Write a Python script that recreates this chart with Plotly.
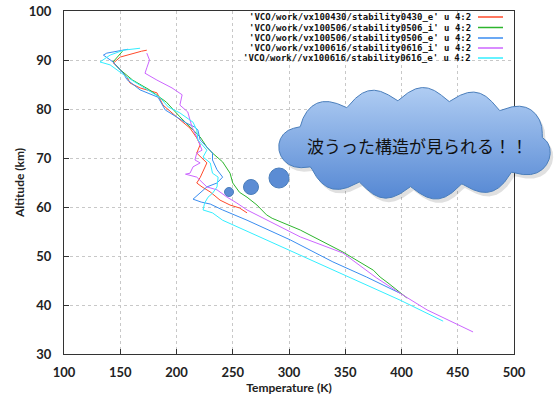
import numpy as np
import plotly.graph_objects as go

W, H = 558, 399

# ---------------- data (Temperature K, Altitude km) ----------------
names = [
    "'VCO/work/vx100430/stability0430_e' u 4:2",
    "'VCO/work/vx100506/stability0506_i' u 4:2",
    "'VCO/work/vx100506/stability0506_e' u 4:2",
    "'VCO/work/vx100616/stability0616_i' u 4:2",
    "'VCO/work//vx100616/stability0616_e' u 4:2",
]
colors = ["#ff4a2a", "#2db52d", "#3a8df0", "#cc66ff", "#33eeff"]

red_T = [173.6, 169, 150, 144, 152, 156, 158.7, 167.6, 182.6, 188, 200, 212, 218, 221, 218, 227,
         221, 218, 222.7, 229.8, 238.7, 247.6, 256, 262.7]
red_A = [92.0, 91.8, 90.6, 89.4, 87.5, 86.5, 85.3, 84.3, 83.3, 80.8, 78.4, 76.1, 74.1, 72.7, 71.0, 69.0,
         66.0, 64.9, 64.1, 63.1, 61.4, 60.4, 59.8, 58.8]

green_T = [152, 143.6, 150, 161, 176, 191, 203, 212, 221, 227, 232, 241, 247.6, 250, 256, 262.7,
           271.5, 280, 285, 310, 348, 375, 381, 388, 398.7, 405]
green_A = [91.8, 89.6, 88.0, 85.9, 83.9, 81.4, 78.4, 76.3, 74.3, 72.2, 71.0, 69.2, 66.9, 64.9, 63.0, 62.0,
           60.4, 58.4, 57.7, 55.3, 50.8, 47.1, 45.7, 44.5, 42.6, 41.4]

blue_T = [157, 138, 135, 143.6, 152.7, 156, 167.6, 183.6, 190, 200, 209, 216.4, 219, 221, 227, 232,
          232, 236, 241, 236, 227, 221, 214.7, 222, 230, 241, 262.7, 301, 339, 369, 398.7]
blue_A = [92.2, 91.4, 91.0, 89.6, 87.3, 86.0, 83.9, 82.4, 79.8, 78.4, 77.1, 76.3, 75.7, 73.7, 72.2, 71.0,
          69.6, 67.6, 66.1, 64.9, 64.1, 62.8, 61.6, 61.0, 60.6, 59.4, 57.3, 53.3, 48.8, 45.7, 42.4]

purple_T = [173.6, 176, 173.6, 172, 182.6, 196, 205, 203, 210, 213.8, 218, 222.7, 218, 216.4, 221,
            214.7, 212, 208, 218, 227, 236, 245, 253.7, 262.7, 310, 348, 378, 398.7, 422.7, 445.8, 463.6]
purple_A = [91.4, 90.0, 88.4, 87.3, 85.9, 84.3, 82.9, 80.8, 79.4, 76.3, 74.3, 71.6, 71.0, 69.6, 69.0,
            68.2, 66.9, 66.7, 66.1, 64.1, 63.5, 62.0, 60.8, 59.4, 53.9, 50.6, 45.5, 42.4, 39.0, 36.5, 34.5]

cyan_T = [167.6, 152.7, 141, 132, 141, 147, 156, 170, 185, 192.7, 203, 214.7, 218, 219, 227, 223.6,
          230, 232, 237, 236, 232, 228, 225, 223.6, 232, 241, 280, 339, 398.7, 437]
cyan_A = [92.4, 92.0, 91.0, 89.6, 89.0, 88.0, 86.5, 84.5, 82.4, 80.4, 79.2, 77.3, 75.7, 73.7, 71.6, 70.2,
          69.0, 66.9, 66.1, 64.1, 62.8, 62.0, 60.8, 59.4, 58.8, 57.3, 53.3, 47.1, 41.0, 36.7]

x_ticks = [100, 150, 200, 250, 300, 350, 400, 450, 500]
y_ticks = [30, 40, 50, 60, 70, 80, 90, 100]
callout_text = "波うった構造が見られる！！"

series = [(red_T, red_A), (green_T, green_A), (blue_T, blue_A), (purple_T, purple_A), (cyan_T, cyan_A)]

fig = go.Figure()
for (T, A), nm, c in zip(series, names, colors):
    fig.add_trace(go.Scatter(x=T, y=A, mode="lines", name=nm, line=dict(color=c, width=1),
                             showlegend=False, xaxis="x", yaxis="y"))

# ---------------- callout cloud (screen-pixel overlay axes) ----------------
cx, cy, a, b, amp, nb = 417, 143.5, 126, 43, 13, 11
t = np.linspace(0, 2 * np.pi, 1500)
ex = cx + a * np.cos(t)
ey = cy + b * np.sin(t)
s = np.concatenate([[0], np.cumsum(np.hypot(np.diff(ex), np.diff(ey)))])
bump = amp * np.abs(np.sin(np.pi * nb * s / s[-1] + 0.4))
nx, ny = b * np.cos(t), a * np.sin(t)
nn = np.hypot(nx, ny)
px = ex + bump * nx / nn
py = ey + bump * ny / nn

fig.add_trace(go.Scatter(x=px + 3, y=py + 4, mode="lines", fill="toself",
                         fillcolor="rgba(0,0,0,0.12)", line=dict(width=0),
                         hoverinfo="skip", showlegend=False, xaxis="x2", yaxis="y2"))
fig.add_trace(go.Scatter(x=px, y=py, mode="lines", fill="toself",
                         fillgradient=dict(type="vertical", start=87, stop=200,
                                           colorscale=[[0, "#b0cdf3"], [1, "#5487d3"]]),
                         line=dict(color="#4a7ebb", width=1),
                         hoverinfo="skip", showlegend=False, xaxis="x2", yaxis="y2"))

shapes = []
for (bx, by, r) in [(229, 192, 4.5), (251, 187, 7.5), (279, 178, 10)]:
    shapes.append(dict(type="circle", xref="x2", yref="y2", x0=bx - r, x1=bx + r, y0=by - r, y1=by + r,
                       fillcolor="#5b8cd4", line=dict(color="#4a7ebb", width=1), layer="above"))

annotations = [dict(x=417, y=145, xref="x2", yref="y2", text=callout_text, showarrow=False,
                    font=dict(family="Noto Sans CJK JP", size=17, color="#111"))]

# gnuplot-style key (text right, sample line on the right)
key_y = [17, 27.5, 38, 48, 58]
for nm, c, ky in zip(names, colors, key_y):
    annotations.append(dict(x=473, y=ky, xref="x2", yref="y2", text=nm, showarrow=False,
                            xanchor="right", yanchor="middle",
                            font=dict(family="DejaVu Sans Mono", size=9, color="#111", weight="bold")))
    shapes.append(dict(type="line", xref="x2", yref="y2", x0=478, x1=503, y0=ky, y1=ky,
                       line=dict(color=c, width=1.5)))

tickfont = dict(family="Lato", size=13, color="#222", weight="bold")
fig.update_layout(
    width=W, height=H,
    margin=dict(l=0, r=0, t=0, b=0, autoexpand=False),
    paper_bgcolor="white", plot_bgcolor="rgba(0,0,0,0)",
    showlegend=False,
    xaxis=dict(domain=[64 / W, 514 / W], range=[100, 500], tickvals=x_ticks,
               ticks="inside", ticklen=5, tickcolor="#333", mirror=True,
               showline=True, linecolor="#333", linewidth=1,
               showgrid=True, gridcolor="#c8c8c8", griddash="dot", gridwidth=1,
               zeroline=False, tickfont=tickfont, ticklabelstandoff=6,
               title=dict(text="Temperature (K)", font=dict(family="Lato", size=12, color="#222", weight="bold"),
                          standoff=5),
               anchor="y"),
    yaxis=dict(domain=[1 - 354 / H, 1 - 11 / H], range=[30, 100], tickvals=y_ticks,
               ticks="inside", ticklen=5, tickcolor="#333", mirror=True,
               showline=True, linecolor="#333", linewidth=1,
               showgrid=True, gridcolor="#c8c8c8", griddash="dot", gridwidth=1,
               zeroline=False, tickfont=tickfont, ticklabelstandoff=9,
               title=dict(text="Altitude (km)", font=dict(family="Lato", size=12, color="#222", weight="bold"),
                          standoff=1),
               anchor="x"),
    xaxis2=dict(domain=[0, 1], range=[0, W], visible=False, anchor="y2", fixedrange=True),
    yaxis2=dict(domain=[0, 1], range=[H, 0], visible=False, anchor="x2", fixedrange=True),
    shapes=shapes,
    annotations=annotations,
)

fig.write_html("out.html", config={"displayModeBar": False},
               post_script="document.body.style.margin='0';")
